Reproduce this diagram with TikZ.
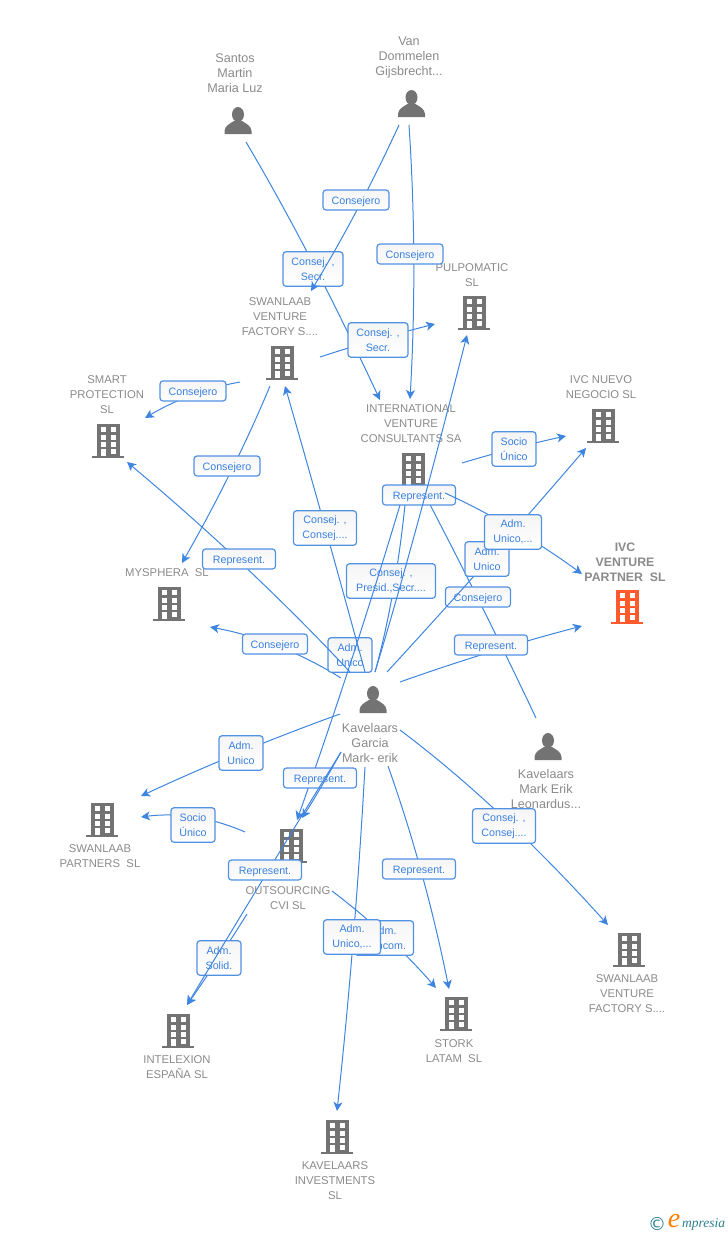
\documentclass[tikz,border=0pt]{standalone}
\usepackage{fontspec}
\setmainfont{Liberation Sans}
\newfontfamily\serifit{Liberation Serif}
\newfontfamily\dejavu{DejaVu Sans}
\usetikzlibrary{arrows.meta,calc}
\definecolor{edgeblue}{HTML}{3D85E0}
\definecolor{txtblue}{HTML}{3A80E0}
\definecolor{icongray}{HTML}{737373}
\definecolor{labgray}{HTML}{8A8A8A}
\definecolor{hot}{HTML}{FF5A2B}
\definecolor{teal1}{HTML}{2F7F93}
\newcommand{\crv}[4]{\draw[#1] (#2) .. controls ($(#2)!.6667!(#3)$) and ($(#4)!.6667!(#3)$) .. (#4);}
\tikzset{
  edge/.style={draw=edgeblue,line width=1pt},
  arr/.style={edge,-{Stealth[length=9pt,width=9pt,inset=2.5pt]}},
  lbl/.style={draw=edgeblue!90!white,line width=1.2pt,rounded corners=3pt,top color=black!4,bottom color=white,
    text=txtblue,font=\fontsize{10.7}{15}\selectfont,align=center,inner sep=0pt,minimum height=20pt,
    execute at begin node={\rule{0pt}{12pt}}},
  two/.style={minimum height=34.5pt,execute at begin node={\rule{0pt}{10pt}}},
  co/.style={text=labgray,font=\fontsize{11.3}{15}\selectfont,align=center,inner sep=0pt},
  pe/.style={text=labgray,font=\fontsize{12.6}{15}\selectfont,align=center,inner sep=0pt},
  pics/bldg/.style={code={
    \fill[#1] (-11.5,-17) rectangle (11.5,15);
    \fill[#1] (-16,15) rectangle (16,17);
    \foreach \yy in {-14,-6.5,1}{
      \fill[white] (-7,\yy) rectangle (-2,\yy+5);
      \fill[white] (3,\yy) rectangle (8,\yy+5);
    }
    \fill[white] (-7,8) rectangle (-2,15);
    \fill[white] (3,8) rectangle (8,13);
  }},
  pics/pers/.style={code={
    \fill[icongray] (0,-6.5) ellipse (6 and 7.5);
    \fill[icongray] (-13.5,13) -- (-13.5,10) .. controls (-13,5) and (-9,3) .. (-4,0) -- (4,0) .. controls (9,3) and (13,5) .. (13.5,10) -- (13.5,13) -- cycle;
  }}
}
\begin{document}
\begin{tikzpicture}[x=1pt,y=-1pt]
\useasboundingbox (0,0) rectangle (728,1235);
% icons
\pic (iPul) at (474,313) {bldg=icongray};
\pic (iSwa) at (282,363) {bldg=icongray};
\pic (iSma) at (108,441) {bldg=icongray};
\pic (iInt) at (413,470) {bldg=icongray};
\pic (iNue) at (603,426) {bldg=icongray};
\pic (iVen) at (627,607) {bldg=hot};
\pic (iMys) at (169,604) {bldg=icongray};
\pic (iPar) at (102,820) {bldg=icongray};
\pic (iOut) at (291,846) {bldg=icongray};
\pic (iIte) at (178,1031) {bldg=icongray};
\pic (iSto) at (456,1014) {bldg=icongray};
\pic (iLow) at (629,950) {bldg=icongray};
\pic (iInv) at (337,1137) {bldg=icongray};
\pic (pSan) at (238,121) {pers};
\pic (pVan) at (411.5,104) {pers};
\pic (pKav) at (373,700) {pers};
\pic (pMar) at (548,747) {pers};
% labels
\node[pe] (tSan) at (235,73) {Santos\\Martin\\Maria Luz};
\node[pe] (tVan) at (409,57) {Van\\Dommelen\\Gijsbrecht...};
\node[co] (tPul) at (472,275) {PULPOMATIC\\SL};
\node[co] (tSwa) at (280,317) {SWANLAAB\\VENTURE\\FACTORY S....};
\node[co] (tSma) at (107,395) {SMART\\PROTECTION\\SL};
\node[co] (tInt) at (411,424) {INTERNATIONAL\\VENTURE\\CONSULTANTS SA};
\node[co] (tNue) at (601,387.5) {IVC NUEVO\\NEGOCIO SL};
\node[co,font=\fontsize{12.3}{15}\bfseries\selectfont] (tVen) at (625,562) {IVC\\VENTURE\\PARTNER\ \ SL};
\node[co] (tMys) at (167,573) {MYSPHERA\ \ SL};
\node[pe] (tKav) at (370,743) {Kavelaars\\Garcia\\Mark- erik};
\node[pe] (tMar) at (546,789) {Kavelaars\\Mark Erik\\Leonardus...};
\node[co] (tPar) at (100,856.5) {SWANLAAB\\PARTNERS\ \ SL};
\node[co] (tOut) at (288,898.5) {OUTSOURCING\\CVI SL};
\node[co] (tLow) at (627,994) {SWANLAAB\\VENTURE\\FACTORY S....};
\node[co] (tIte) at (177,1067.5) {INTELEXION\\ESPAÑA SL};
\node[co] (tSto) at (454,1051.5) {STORK\\LATAM\ \ SL};
\node[co] (tInv) at (335,1181) {KAVELAARS\\INVESTMENTS\\SL};
% connector ends
\coordinate (sanA) at (246,142);   \coordinate (intT1) at (380,400);
\coordinate (vanA) at (399,125);   \coordinate (swaT) at (311,291);
\coordinate (vanB) at (409,125);   \coordinate (intT2) at (410,399);
\coordinate (swaR) at (320,357);   \coordinate (pulL) at (435,324);
\coordinate (swaL) at (240,382);   \coordinate (smaR) at (145,418);
\coordinate (swaD) at (270,386);   \coordinate (mysT) at (182,563);
\coordinate (kavA) at (365,672);   \coordinate (swaB) at (285,386);
\coordinate (kavB) at (350,672);   \coordinate (smaT) at (127,462);
\coordinate (kavC) at (341,678);   \coordinate (mysR) at (210,627);
\coordinate (intB1) at (400,505);  \coordinate (outT1) at (297,820);
\coordinate (intB2) at (405,505);  \coordinate (kavD) at (375,672);
\coordinate (pulB) at (467,335);
\coordinate (marT) at (536,718);   \coordinate (intB3) at (425,495);
\coordinate (kavE) at (387,672);   \coordinate (nueB) at (586,448);
\coordinate (intR) at (445,493);   \coordinate (venL1) at (582,574);
\coordinate (kavF) at (400,682);   \coordinate (venL2) at (582,626);
\coordinate (intR2) at (462,463);  \coordinate (nueL) at (566,436);
\coordinate (kavG) at (340,714);   \coordinate (parR1) at (141,796);
\coordinate (outL) at (245,832);   \coordinate (parR2) at (141,817);
\coordinate (kavH) at (341,752);   \coordinate (iteT1) at (187,1005);
\coordinate (outT2) at (302,818);
\coordinate (outB) at (247,914);
\coordinate (kavI) at (365,767);   \coordinate (invT) at (337,1111);
\coordinate (kavJ) at (388,766);   \coordinate (stoT1) at (449,989);
\coordinate (outR) at (332,891);   \coordinate (stoT2) at (436,988);
\coordinate (kavK) at (400,730);   \coordinate (lowT) at (608,925);
\coordinate (cSan) at (310,250);  \coordinate (cVanA) at (360,210);
\coordinate (cVanB) at (418,260); \coordinate (cSwaR) at (375,339);
\coordinate (cSwaL) at (190,391); \coordinate (cSwaD) at (235,470);
\coordinate (cIntR2) at (515,447);\coordinate (cIntB2) at (395,600);
\coordinate (cKavE) at (490,560); \coordinate (cMar) at (485,610);
\coordinate (cIntR) at (515,525); \coordinate (cKavF) at (490,650);
\coordinate (cKavC) at (280,640); \coordinate (cKavA) at (325,525);
\coordinate (cKavB) at (250,565); \coordinate (cIntB1) at (352,665);
\coordinate (cKavD) at (415,540); \coordinate (cKavG) at (240,750);
\coordinate (cOutL) at (195,810); \coordinate (cKavH) at (320,790);
\coordinate (cOutB) at (215,965); \coordinate (cKavH2) at (262,880);
\coordinate (cKavJ) at (425,870); \coordinate (cOutR) at (390,935);
\coordinate (cKavI) at (355,945); \coordinate (cKavK) at (500,805);
% connectors and their labels, bottom to top
\crv{arr}{sanA}{cSan}{intT1}
\node[lbl,two,minimum width=60pt] (b1) at (313,269) {Consej. ,\\Secr.};
\crv{arr}{vanA}{cVanA}{swaT}
\node[lbl,minimum width=66pt] (b2) at (356,200) {Consejero};
\crv{arr}{vanB}{cVanB}{intT2}
\node[lbl,minimum width=66pt] (b3) at (410,254) {Consejero};
\crv{arr}{swaR}{cSwaR}{pulL}
\node[lbl,two,minimum width=60pt] (b4) at (378,340) {Consej. ,\\Secr.};
\crv{arr}{swaL}{cSwaL}{smaR}
\node[lbl,minimum width=66pt] (b5) at (193,391) {Consejero};
\crv{arr}{swaD}{cSwaD}{mysT}
\node[lbl,minimum width=66pt] (b6) at (227,466) {Consejero};
\crv{arr}{intR2}{cIntR2}{nueL}
\node[lbl,two,minimum width=44pt] (b7) at (514,449) {Socio\\Único};
\crv{edge}{intB2}{cIntB2}{kavD}
\node[lbl,two,minimum width=89pt] (b8) at (391,581) {Consej. ,\\Presid.,Secr....};
\crv{edge}{marT}{cMar}{intB3}
\node[lbl,minimum width=73pt] (b10) at (419,495) {Represent.};
\node[lbl,minimum width=65pt] (b12) at (478,597) {Consejero};
\crv{arr}{kavF}{cKavF}{venL2}
\node[lbl,minimum width=73pt] (b13) at (491,645) {Represent.};
\crv{arr}{kavE}{cKavE}{nueB}
\node[lbl,two,minimum width=44pt] (b9) at (487,559) {Adm.\\Unico};
\crv{arr}{intR}{cIntR}{venL1}
\node[lbl,two,minimum width=57pt] (b11) at (513,532) {Adm.\\Unico,...};
\crv{arr}{kavC}{cKavC}{mysR}
\node[lbl,minimum width=65pt] (b14) at (275,644) {Consejero};
\node[lbl,two,minimum width=44pt] (b17) at (350,655) {Adm.\\Unico};
\crv{arr}{kavA}{cKavA}{swaB}
\node[lbl,two,minimum width=63pt] (b15) at (325,528) {Consej. ,\\Consej....};
\crv{arr}{kavB}{cKavB}{smaT}
\node[lbl,minimum width=73pt] (b16) at (239,559) {Represent.};
\crv{arr}{intB1}{cIntB1}{outT1}
\crv{arr}{kavD}{cKavD}{pulB}
\crv{arr}{kavG}{cKavG}{parR1}
\node[lbl,two,minimum width=44pt] (b18) at (241,753) {Adm.\\Unico};
\crv{arr}{outL}{cOutL}{parR2}
\node[lbl,two,minimum width=44pt] (b19) at (193,825) {Socio\\Único};
\node[lbl,minimum width=73pt] (b20) at (320,778) {Represent.};
\crv{arr}{kavH}{cKavH}{outT2}
\crv{arr}{outB}{cOutB}{iteT1}
\node[lbl,two,minimum width=44pt] (b21) at (219,958) {Adm.\\Solid.};
\crv{arr}{kavH}{cKavH2}{iteT1}
\node[lbl,minimum width=73pt] (b22) at (265,870) {Represent.};
\crv{arr}{kavJ}{cKavJ}{stoT1}
\node[lbl,minimum width=73pt] (b23) at (419,869) {Represent.};
\crv{arr}{outR}{cOutR}{stoT2}
\node[lbl,two,minimum width=59pt] (b24) at (384,938) {Adm.\\Mancom.};
\crv{arr}{kavI}{cKavI}{invT}
\node[lbl,two,minimum width=57pt] (b25) at (352,937) {Adm.\\Unico,...};
\crv{arr}{kavK}{cKavK}{lowT}
\node[lbl,two,minimum width=63pt] (b26) at (504,826) {Consej. ,\\Consej....};
% logo
\node[inner sep=0pt,text=teal1,font=\dejavu\fontsize{18}{18}\selectfont] (lg1) at (657,1224) {©};
\node[inner sep=0pt,text=orange,font=\serifit\itshape\fontsize{28}{28}\selectfont] (lg2) at (674,1221) {e};
\node[inner sep=0pt,text=teal1,font=\serifit\itshape\fontsize{13.5}{14}\selectfont,anchor=west] (lg3) at (682,1224) {mpresia};
\end{tikzpicture}
\end{document}
